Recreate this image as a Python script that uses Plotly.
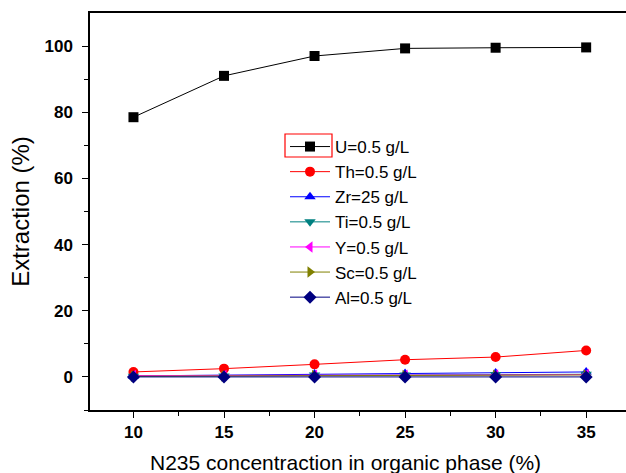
import plotly.graph_objects as go

conc = [10, 15, 20, 25, 30, 35]
names = ["U=0.5 g/L", "Th=0.5 g/L", "Zr=25 g/L", "Ti=0.5 g/L", "Y=0.5 g/L", "Sc=0.5 g/L", "Al=0.5 g/L"]
U = [78.5, 91.0, 97.0, 99.3, 99.5, 99.6]
Th = [1.5, 2.5, 3.8, 5.2, 6.0, 8.0]
Zr = [0.3, 0.5, 0.9, 1.0, 1.2, 1.5]
Ti = [0.2, 0.3, 0.6, 0.6, 0.7, 0.8]
Y = [0.4, 0.4, 0.5, 0.5, 0.6, 0.7]
Sc = [0.2, 0.3, 0.4, 0.4, 0.5, 0.6]
Al = [0.0, 0.0, 0.0, 0.0, 0.0, 0.0]

series = [U, Th, Zr, Ti, Y, Sc, Al]
colors = ["#000000", "#ff0000", "#0000ff", "#008080", "#ff00ff", "#808000", "#000080"]
symbols = ["square", "circle", "triangle-up", "triangle-down", "triangle-left", "triangle-right", "diamond"]

fig = go.Figure()
for nm, vals, c, s in zip(names, series, colors, symbols):
    fig.add_trace(go.Scatter(x=conc, y=vals, name=nm, mode="lines+markers",
                             line=dict(color=c, width=1),
                             marker=dict(symbol=s, size=10, color=c)))

W, H = 626, 473
L, T, B, R = 90, 13, 63, 0
pw, ph = W - L - R, H - T - B

def px(x):
    return (x - L) / pw
def py(y):
    return (H - B - y) / ph

tickfont = dict(size=17, family="Arial, Liberation Sans", color="black", weight="bold")

fig.update_layout(
    width=W, height=H,
    margin=dict(l=L, r=R, t=T, b=B),
    paper_bgcolor="white", plot_bgcolor="white",
    font=dict(family="Arial, Liberation Sans, sans-serif", color="black"),
    showlegend=True,
    legend=dict(x=px(285), y=py(129), xanchor="left", yanchor="top",
                bgcolor="rgba(0,0,0,0)", font=dict(size=17), tracegroupgap=0,
                itemwidth=40),
    xaxis=dict(range=[7.6, 37.2], tickvals=[10, 15, 20, 25, 30, 35],
               showline=True, linecolor="black", linewidth=1.5, mirror=True,
               ticks="outside", ticklen=6, tickcolor="black",
               minor=dict(tickvals=[12.5, 17.5, 22.5, 27.5, 32.5, 37.5], ticks="outside", ticklen=4, tickcolor="black"),
               showgrid=False, zeroline=False, tickfont=tickfont),
    yaxis=dict(range=[-10, 110], tickvals=[0, 20, 40, 60, 80, 100],
               showline=True, linecolor="black", linewidth=1.5,
               ticks="outside", ticklen=6, tickcolor="black", ticklabelstandoff=6,
               minor=dict(tickvals=[-10, 10, 30, 50, 70, 90], ticks="outside", ticklen=4, tickcolor="black"),
               showgrid=False, zeroline=False, tickfont=tickfont,
               title=dict(text="Extraction (%)", font=dict(size=24), standoff=8)),
)
fig.add_annotation(text="N235 concentraction in organic phase (%)", xref="paper", yref="paper",
                   x=px(345), y=py(462), xanchor="center", yanchor="middle",
                   showarrow=False, font=dict(size=21))
fig.add_shape(type="rect", xref="paper", yref="paper",
              x0=px(285), x1=px(332), y0=py(157), y1=py(134),
              line=dict(color="#ff0000", width=1.2), fillcolor="rgba(0,0,0,0)")

fig.write_html("out.html")
